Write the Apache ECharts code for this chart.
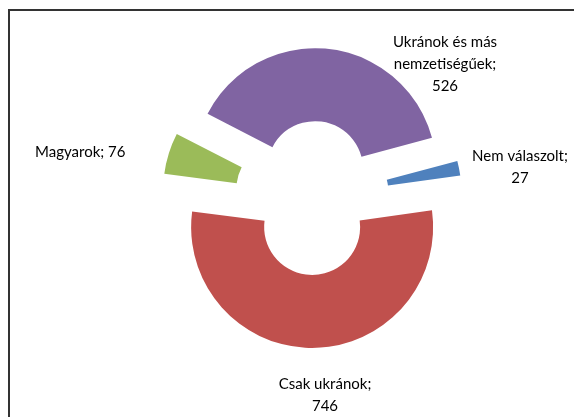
<!DOCTYPE html>
<html>
<head>
<meta charset="utf-8">
<script src="https://cdn.jsdelivr.net/npm/echarts@6/dist/echarts.min.js"></script>
<style>
  html, body { margin: 0; padding: 0; background: #fff; }
  #chart { width: 574px; height: 417px; }
</style>
</head>
<body>
<div id="chart"></div>
<script>
// adatok
var categories = ['Nem válaszolt', 'Csak ukránok', 'Magyarok', 'Ukránok és más nemzetiségűek'];
var values = [27, 746, 76, 526];

// stílus
var colorArray = ['#4F81BD', '#C0504D', '#9BBB59', '#8064A2'];
// címke helye: [x, y, igazítás]
var labelPos = [
    [520, 167, 'center'],
    [325, 395, 'center'],
    [35, 152, 'left'],
    [445, 64, 'center']
];

function labelText(i) {
    var name = categories[i];
    if (i === 3) name = name.replace(' nemzetiségűek', '\nnemzetiségűek');
    // a rövid név egy sorban, a többi törve
    return i === 2 ? name + '; ' + values[i] : name + ';\n' + values[i];
}

function drawDonut(id, colorArray) {
    var myChart = echarts.init(document.getElementById(id)),
        data = [],
        graphics = [{
            type: 'polyline',
            shape: { points: [[9, 420], [9, 10], [580, 10]] },
            style: { stroke: '#333', lineWidth: 2, fill: null },
            silent: true
        }];
    for (var i = 0; i < categories.length; i++) {
        data.push({ name: categories[i], value: values[i], selected: true });
        graphics.push({
            type: 'text',
            x: labelPos[i][0],
            y: labelPos[i][1],
            silent: true,
            style: {
                text: labelText(i),
                font: '15px Lato',
                lineHeight: 22,
                fill: '#000',
                align: labelPos[i][2],
                verticalAlign: 'middle'
            }
        });
    }
    var option = {
        color: colorArray,
        animation: false,
        graphic: graphics,
        series: [{
            type: 'pie',
            center: [312, 198],
            radius: [48, 121],
            startAngle: 15,
            clockwise: true,
            selectedMode: 'multiple',
            selectedOffset: 29,
            emphasis: { disabled: true },
            itemStyle: { borderWidth: 0 },
            label: { show: false },
            labelLine: { show: false },
            data: data
        }]
    };
    myChart.setOption(option);
}

drawDonut('chart', colorArray);
</script>
</body>
</html>
